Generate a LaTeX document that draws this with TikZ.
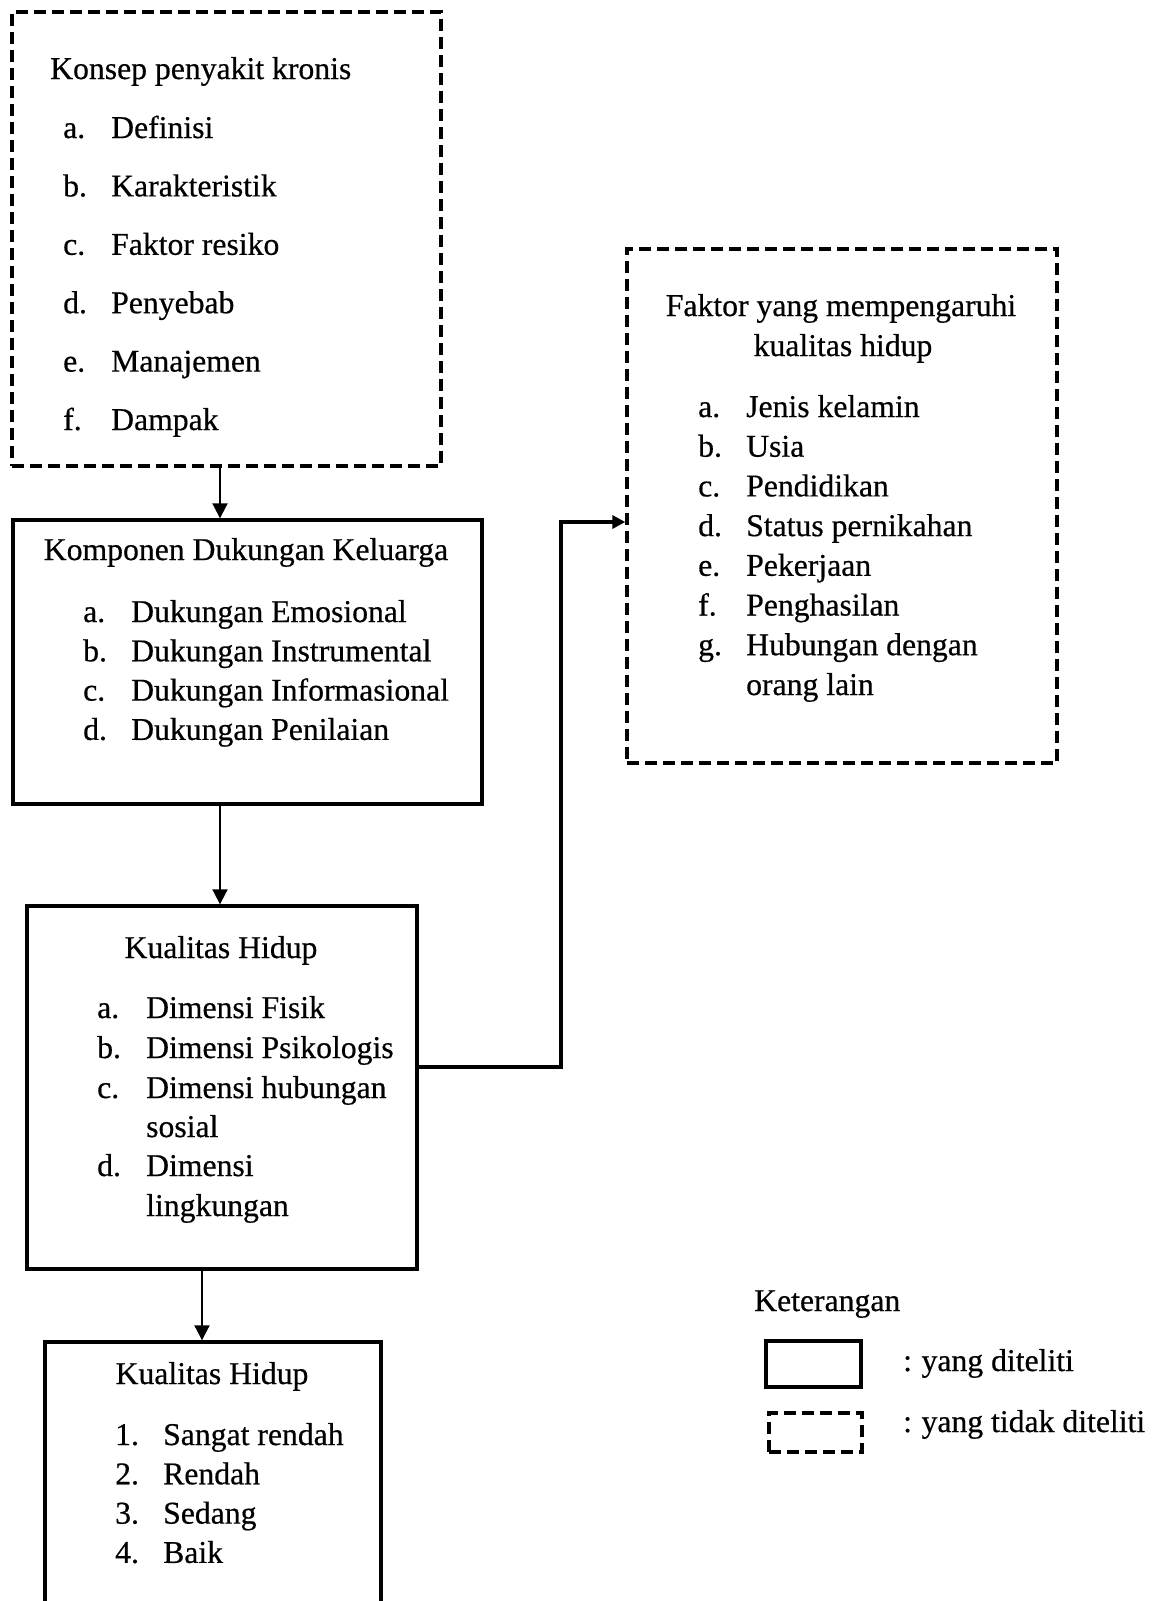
\documentclass[tikz,border=0pt]{standalone}
\usepackage{fontspec}
\setmainfont{Liberation Serif}[FakeBold=0.5]
\newfontfamily\reffont{Liberation Serif}[FakeBold=0.5]
\usetikzlibrary{arrows.meta}
\begin{document}
\begin{tikzpicture}[x=1pt,y=-1pt,
  solidbox/.style={draw, line width=3.4pt, inner sep=0pt},
  dashbox/.style={draw, line width=3.4pt, dash pattern=on 12pt off 6pt, inner sep=0pt},
  txt/.style={inner sep=0pt, anchor=base west, font=\reffont\fontsize{31.7}{38}\selectfont},
  ctxt/.style={txt, anchor=base},
  arr/.style={line width=2pt, -{Triangle[length=15pt,width=15pt]}},
  elbow/.style={line width=3.4pt, -{Triangle[length=13pt,width=13pt]}}]
\useasboundingbox (0,0) rectangle (1160,1601);
\fill[white] (0,0) rectangle (1160,1601);
\clip (0,0) rectangle (1160,1601);

% boxes
\node[dashbox,  minimum width=429pt, minimum height=454pt] (b1) at (226.5,239) {};
\node[solidbox, minimum width=469pt, minimum height=284pt] (b2) at (247.5,662) {};
\node[solidbox, minimum width=390pt, minimum height=363pt] (b3) at (222,1087.5) {};
\node[solidbox, minimum width=336pt, minimum height=298pt] (b4) at (213,1491) {};
\node[dashbox,  minimum width=430pt, minimum height=514pt] (b5) at (842,506) {};

% box 1 text
\node[txt] (t1) at (50,79) {Konsep penyakit kronis};
\foreach \lab/\txt [count=\i] in {a./Definisi, b./Karakteristik, c./Faktor resiko, d./Penyebab, e./Manajemen, f./Dampak}
  \node[txt] (t1i\i) at (63,{138+(\i-1)*58.4}) {\makebox[48pt][l]{\lab}\txt};

% box 2 text
\node[ctxt] (t2) at (246,560) {Komponen Dukungan Keluarga};
\foreach \lab/\txt [count=\i] in {a./Dukungan Emosional, b./Dukungan Instrumental, c./Dukungan Informasional, d./Dukungan Penilaian}
  \node[txt] (t2i\i) at (83,{622+(\i-1)*39.3}) {\makebox[48pt][l]{\lab}\txt};

% box 3 text
\node[ctxt] (t3) at (221,958) {Kualitas Hidup};
\node[txt] (t3a) at (97,1018) {\makebox[49pt][l]{a.}Dimensi Fisik};
\node[txt] (t3b) at (97,1058) {\makebox[49pt][l]{b.}Dimensi Psikologis};
\node[txt] (t3c) at (97,1098) {\makebox[49pt][l]{c.}Dimensi hubungan};
\node[txt] (t3c2) at (146,1137) {sosial};
\node[txt] (t3d) at (97,1176) {\makebox[49pt][l]{d.}Dimensi};
\node[txt] (t3d2) at (146,1216) {lingkungan};

% box 4 text
\node[ctxt] (t4) at (212,1384) {Kualitas Hidup};
\foreach \lab/\txt [count=\i] in {1./Sangat rendah, 2./Rendah, 3./Sedang, 4./Baik}
  \node[txt] (t4i\i) at (115,{1445+(\i-1)*39.3}) {\makebox[48pt][l]{\lab}\txt};

% box 5 text
\node[ctxt] (t5a) at (841,316) {Faktor yang mempengaruhi};
\node[ctxt] (t5b) at (843,356) {kualitas hidup};
\foreach \lab/\txt [count=\i] in {a./Jenis kelamin, b./Usia, c./Pendidikan, d./Status pernikahan, e./Pekerjaan, f./Penghasilan, g./Hubungan dengan}
  \node[txt] (t5i\i) at (698,{417+(\i-1)*39.7}) {\makebox[48pt][l]{\lab}\txt};
\node[txt] (t5g2) at (746,695) {orang lain};

% connectors
\coordinate (c1) at (220,0);
\coordinate (c2) at (202,0);
\coordinate (j1) at (561,1067);
\coordinate (j2) at (561,522);
\draw[arr] (b1.south -| c1) -- (b2.north -| c1);
\draw[arr] (b2.south -| c1) -- (b3.north -| c1);
\draw[arr] (b3.south -| c2) -- (b4.north -| c2);
\draw[elbow] (b3.east |- j1) -- (j1) -- (j2) -- (b5.west |- j2);

% legend
\node[txt] (lk) at (754,1311) {Keterangan};
\node[solidbox, minimum width=95pt, minimum height=46pt] (ls) at (813.5,1364) {};
\node[dashbox, minimum width=93pt, minimum height=39pt] (ld) at (815.5,1432.5) {};
\node[txt] (lst) at (903,1371) {:\hspace{-1pt} yang diteliti};
\node[txt] (ldt) at (903,1432) {:\hspace{-1pt} yang tidak diteliti};
\end{tikzpicture}
\end{document}
